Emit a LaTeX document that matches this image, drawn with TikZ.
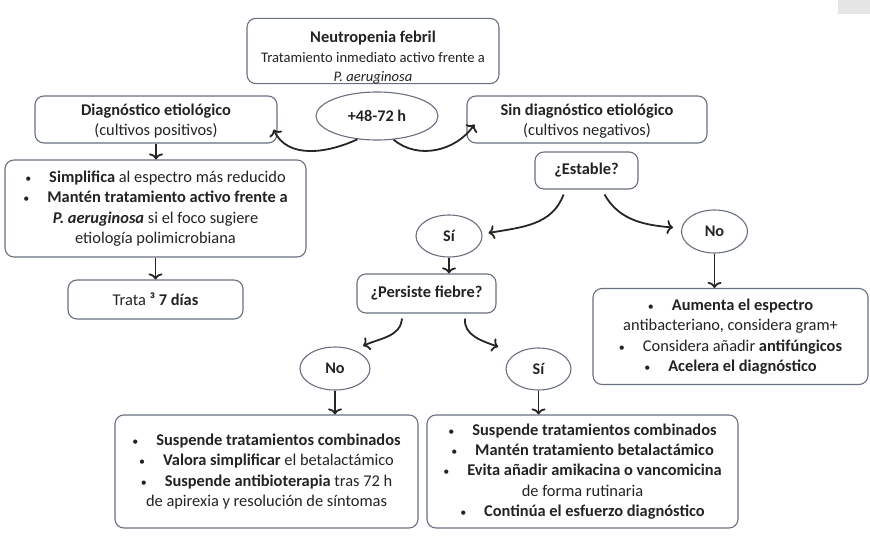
\documentclass[tikz,border=0pt]{standalone}
\usepackage{fontspec}
\setmainfont{Carlito}
\usetikzlibrary{arrows.meta,shapes.geometric}
\definecolor{boxline}{RGB}{105,112,128}
\definecolor{txt}{RGB}{35,35,35}
\tikzstyle{format}=[rectangle,draw=boxline,line width=1.1pt,rounded corners=9pt,fill=white,align=center,inner sep=0pt,text=txt,font=\fontsize{16.4}{20.4}\selectfont]
\tikzstyle{oval}=[ellipse,draw=boxline,line width=1.1pt,fill=white,inner sep=0pt,text=txt,font=\bfseries\fontsize{16.2}{18}\selectfont]
\tikzstyle{norm}=[-{To[length=6pt,width=14pt]},line width=1.8pt,black!85]
\newcommand{\bul}{{\fontsize{12}{12}\selectfont •}\hspace{18pt}}
\newcommand{\subtxt}{\fontsize{14.6}{20}\selectfont}

\begin{document}
\begin{tikzpicture}[x=1pt,y=1pt]
  \useasboundingbox (0,0) rectangle (870,-538);
  \fill[black!10] (838,0) rectangle (870,-14);
  %节点直接指定位置
  \node[format,minimum width=252pt,minimum height=64pt] (start) at (373,-51)
    {\rule{0pt}{24pt}\textbf{Neutropenia febril}\\{\subtxt Tratamiento inmediato activo frente a}\\[-2pt]{\subtxt\itshape P. aeruginosa}};
  \node[oval,minimum width=122pt,minimum height=48pt] (t48) at (377,-116) {+48-72 h};
  \node[format,minimum width=242pt,minimum height=47pt] (diag) at (156,-119.5)
    {\rule{0pt}{15pt}\textbf{Diagnóstico etiológico}\\(cultivos positivos)};
  \node[format,minimum width=240pt,minimum height=47pt] (sindiag) at (587,-119.5)
    {\rule{0pt}{15pt}\textbf{Sin diagnóstico etiológico}\\(cultivos negativos)};
  \node[format,minimum width=301pt,minimum height=97pt] (simpl) at (155.5,-208.5)
    {\bul\textbf{Simplifica} al espectro más reducido\\\bul\textbf{Mantén tratamiento activo frente a}\\\textbf{\itshape P. aeruginosa} si el foco sugiere\\etiología polimicrobiana};
  \node[format,minimum width=175pt,minimum height=39pt] (trata) at (155.5,-299.5)
    {Trata \textbf{³ 7 días}};
  \node[format,minimum width=103pt,minimum height=37pt] (estable) at (586.5,-170.5) {\textbf{¿Estable?}};
  \node[oval,minimum width=66pt,minimum height=42pt] (si1) at (449,-236) {Sí};
  \node[oval,minimum width=66pt,minimum height=43pt] (no1) at (714.5,-231.5) {No};
  \node[format,minimum width=139pt,minimum height=39pt] (persiste) at (426.5,-293.5) {\textbf{¿Persiste fiebre?}};
  \node[format,minimum width=275pt,minimum height=96pt] (aumenta) at (730.5,-336.5)
    {\bul\textbf{Aumenta el espectro}\\antibacteriano, considera gram+\\\bul Considera añadir \textbf{antifúngicos}\\\bul\textbf{Acelera el diagnóstico}};
  \node[oval,minimum width=70pt,minimum height=43pt] (no2) at (335,-368.5) {No};
  \node[oval,minimum width=65pt,minimum height=42pt] (si2) at (538.5,-369) {Sí};
  \node[format,minimum width=303pt,minimum height=113pt] (bl) at (266.5,-471.5)
    {\bul\textbf{Suspende tratamientos combinados}\\\bul\textbf{Valora simplificar} el betalactámico\\\bul\textbf{Suspende antibioterapia} tras 72 h\\de apirexia y resolución de síntomas};
  \node[format,minimum width=311pt,minimum height=113pt] (br) at (582.5,-471.5)
    {\bul\textbf{Suspende tratamientos combinados}\\\bul\textbf{Mantén tratamiento betalactámico}\\\bul\textbf{Evita añadir amikacina o vancomicina}\\de forma rutinaria\\\bul\textbf{Continúa el esfuerzo diagnóstico}};
  %连线
  \draw[norm] (t48.230) to[out=205,in=-65] ([shift={(-4pt,-10pt)}]diag.east);
  \draw[norm] (t48.-55) to[out=-40,in=235] ([shift={(8pt,-5pt)}]sindiag.west);
  \draw[norm] (diag.south) -- (diag.south |- simpl.north);
  \draw[norm] (simpl.south) -- (trata.north);
  \draw[norm] ([shift={(-23pt,-5pt)}]estable.south) to[out=250,in=10] ([shift={(6pt,3pt)}]si1.east);
  \draw[norm] ([shift={(18pt,-5pt)}]estable.south) to[out=-60,in=175] ([shift={(-8pt,4pt)}]no1.west);
  \draw[norm] (si1.south) -- (si1.south |- persiste.north);
  \draw[norm] (no1.south) -- (no1.south |- aumenta.north);
  \draw[norm] ([shift={(-24.5pt,-5pt)}]persiste.south) to[out=-95,in=25] ([shift={(3pt,7pt)}]no2.north east);
  \draw[norm] ([shift={(38.5pt,-5pt)}]persiste.south) to[out=-95,in=160] ([shift={(-17pt,7pt)}]si2.north west);
  \draw[norm] (no2.south) -- (no2.south |- bl.north);
  \draw[norm] (si2.south) -- (si2.south |- br.north);
\end{tikzpicture}
\end{document}
